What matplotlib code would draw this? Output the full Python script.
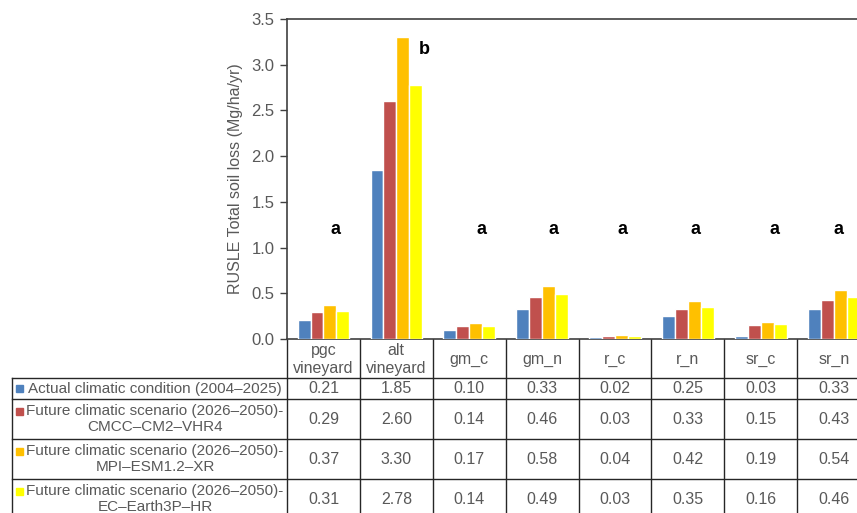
import numpy as np
import matplotlib
matplotlib.use("Agg")
import matplotlib.pyplot as plt
from matplotlib.lines import Line2D
from matplotlib.patches import Rectangle

plt.rcParams['font.family'] = ['Liberation Sans', 'DejaVu Sans']

# soil loss per management type (Mg/ha/yr)
categories = ["pgc\nvineyard", "alt\nvineyard", "gm_c", "gm_n", "r_c", "r_n", "sr_c", "sr_n"]
actual = [0.21, 1.85, 0.10, 0.33, 0.02, 0.25, 0.03, 0.33]
cmcc = [0.29, 2.60, 0.14, 0.46, 0.03, 0.33, 0.15, 0.43]
mpi = [0.37, 3.30, 0.17, 0.58, 0.04, 0.42, 0.19, 0.54]
ecearth = [0.31, 2.78, 0.14, 0.49, 0.03, 0.35, 0.16, 0.46]

series_names = [
    "Actual climatic condition (2004\u20132025)",
    "Future climatic scenario (2026\u20132050)-\nCMCC\u2013CM2\u2013VHR4",
    "Future climatic scenario (2026\u20132050)-\nMPI\u2013ESM1.2\u2013XR",
    "Future climatic scenario (2026\u20132050)-\nEC\u2013Earth3P\u2013HR",
]
colors = ["#4F81BD", "#C0504D", "#FFC000", "#FFFF00"]

# significance groups
letters = ["a", "b", "a", "a", "a", "a", "a", "a"]
letter_x = [0.17, 0.38, 0.17, 0.16, 0.10, 0.11, 0.19, 0.06]
letter_y = [1.2, 3.17, 1.2, 1.2, 1.2, 1.2, 1.2, 1.2]

W, H = 857, 513
GRAY = "#595959"

fig = plt.figure(figsize=(W / 100, H / 100), dpi=100)

# layout in pixels
ax_left, ax_top, ax_bottom = 287, 19, 339
col_w = 72.9
n = len(categories)
ax_right = ax_left + n * col_w

# table overlay in pixel coordinates
tab = fig.add_axes([0, 0, 1, 1])
tab.set_xlim(0, W)
tab.set_ylim(H, 0)
tab.axis("off")

ax = fig.add_axes([ax_left / W, (H - ax_bottom) / H,
                   (ax_right - ax_left) / W, (ax_bottom - ax_top) / H])

x = np.arange(n)
slot = 0.177
all_series = [actual, cmcc, mpi, ecearth]
for k, (vals, c) in enumerate(zip(all_series, colors)):
    ax.bar(x + (k - 1.5) * slot, vals, width=slot, color=c,
           edgecolor="white", linewidth=1.0, zorder=3)

for i, (lt, dx, ly) in enumerate(zip(letters, letter_x, letter_y)):
    ax.text(i + dx, ly, lt, ha="center", va="center", fontsize=13,
            fontweight="bold", color="black")

ax.set_xlim(-0.5, n - 0.5)
ax.set_ylim(0, 3.5)
ax.set_yticks(np.arange(0, 3.51, 0.5))
ax.set_yticklabels([f"{v:.1f}" for v in np.arange(0, 3.51, 0.5)])
ax.set_xticks([])
ax.tick_params(axis="y", direction="out", length=5, width=1, color="#404040",
               labelsize=12, labelcolor=GRAY, pad=4)
for side in ["left", "top", "bottom"]:
    ax.spines[side].set_color("#404040")
    ax.spines[side].set_linewidth(1.2)
ax.spines["right"].set_visible(False)
ax.set_ylabel("RUSLE Total soil loss (Mg/ha/yr)", fontsize=11.5, color=GRAY,
              labelpad=6)

# data table under the chart
line_kw = dict(color="#262626", linewidth=1.0)
table_left = 12
row_edges = [ax_bottom, 378, 399, 439, 479, 519]
col_edges = [ax_left + i * col_w for i in range(n + 1)]

for ce in col_edges:
    tab.add_line(Line2D([ce, ce], [ax_bottom, H + 10], **line_kw))
tab.add_line(Line2D([table_left, table_left], [row_edges[1], H + 10], **line_kw))
for re in row_edges[1:]:
    tab.add_line(Line2D([table_left, ax_right], [re, re], **line_kw))

fs = 11.5
for i, cat in enumerate(categories):
    cx = (col_edges[i] + col_edges[i + 1]) / 2
    tab.text(cx, (row_edges[0] + row_edges[1]) / 2 + 1, cat, ha="center", va="center",
             fontsize=fs, color=GRAY, linespacing=1.3)

for r, (name, vals, c) in enumerate(zip(series_names, all_series, colors)):
    top, bot = row_edges[r + 1], row_edges[r + 2]
    cy = (top + bot) / 2
    nlines = name.count("\n") + 1
    first_y = cy - (nlines - 1) * 8
    tab.add_patch(Rectangle((16, first_y - 3.5), 7, 7, color=c))
    tab.text(155, cy, name, ha="center", va="center", fontsize=11,
             multialignment="center", color=GRAY, linespacing=1.25)
    for i, v in enumerate(vals):
        cx = (col_edges[i] + col_edges[i + 1]) / 2
        tab.text(cx, cy, f"{v:.2f}", ha="center", va="center", fontsize=fs,
                 color=GRAY)

fig.savefig("out.png", dpi=100, facecolor="white")
